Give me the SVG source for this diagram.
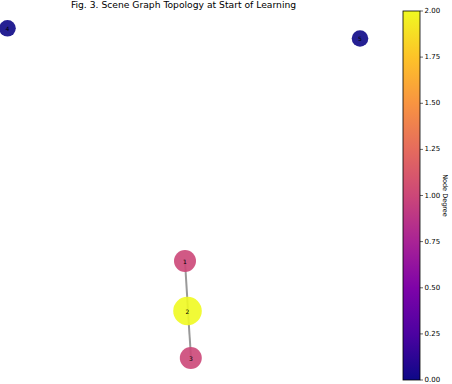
<svg xmlns="http://www.w3.org/2000/svg" width="452" height="384" viewBox="0 0 452 384">
<style>
text{font-family:"DejaVu Sans","Liberation Sans",sans-serif;fill:#000}
.title{font-size:9.2px}
.nl{font-size:6px;text-anchor:middle;dominant-baseline:central}
.tick{font-size:7px;dominant-baseline:central}
.edge{stroke:#999;stroke-width:2;fill:none}
.n0{fill:#0d0887;fill-opacity:0.9}
.n1{fill:#cc4778;fill-opacity:0.9}
.n2{fill:#f0f921;fill-opacity:0.9}
.tk{stroke:#000;stroke-width:0.6}
</style>
<defs>
<linearGradient id="plasma" x1="0" y1="1" x2="0" y2="0">
<stop offset="0" stop-color="#0d0887"/>
<stop offset="0.125" stop-color="#4c02a1"/>
<stop offset="0.25" stop-color="#7e03a8"/>
<stop offset="0.375" stop-color="#a92395"/>
<stop offset="0.5" stop-color="#cc4778"/>
<stop offset="0.625" stop-color="#e56b5d"/>
<stop offset="0.75" stop-color="#f89441"/>
<stop offset="0.875" stop-color="#fdc328"/>
<stop offset="1" stop-color="#f0f921"/>
</linearGradient>
</defs>
<rect width="452" height="384" fill="#fff"/>
<text class="title" x="183.5" y="8" text-anchor="middle">Fig. 3. Scene Graph Topology at Start of Learning</text>
<g id="edges">
<line class="edge" x1="185" y1="261" x2="188" y2="311"/>
<line class="edge" x1="188" y1="311" x2="191" y2="358"/>
</g>
<g id="node-4"><circle class="n0" cx="7.5" cy="28.3" r="8.3"/><text class="nl" x="7.5" y="28.3">4</text></g>
<g id="node-5"><circle class="n0" cx="360" cy="38.5" r="8.3"/><text class="nl" x="360" y="38.5">5</text></g>
<g id="node-1"><circle class="n1" cx="185" cy="261" r="11"/><text class="nl" x="185" y="261">1</text></g>
<g id="node-2"><circle class="n2" cx="187.5" cy="311" r="14.3"/><text class="nl" x="187.5" y="311">2</text></g>
<g id="node-3"><circle class="n1" cx="190.8" cy="358" r="11"/><text class="nl" x="190.8" y="358">3</text></g>
<g id="colorbar">
<rect x="403" y="11" width="17" height="369" fill="url(#plasma)" stroke="#000" stroke-width="0.8"/>
<g class="tk">
<line x1="420" y1="11" x2="423" y2="11"/>
<line x1="420" y1="57.1" x2="423" y2="57.1"/>
<line x1="420" y1="103.3" x2="423" y2="103.3"/>
<line x1="420" y1="149.4" x2="423" y2="149.4"/>
<line x1="420" y1="195.5" x2="423" y2="195.5"/>
<line x1="420" y1="241.6" x2="423" y2="241.6"/>
<line x1="420" y1="287.8" x2="423" y2="287.8"/>
<line x1="420" y1="333.9" x2="423" y2="333.9"/>
<line x1="420" y1="380" x2="423" y2="380"/>
</g>
<text class="tick" x="424.5" y="11">2.00</text>
<text class="tick" x="424.5" y="57.1">1.75</text>
<text class="tick" x="424.5" y="103.3">1.50</text>
<text class="tick" x="424.5" y="149.4">1.25</text>
<text class="tick" x="424.5" y="195.5">1.00</text>
<text class="tick" x="424.5" y="241.6">0.75</text>
<text class="tick" x="424.5" y="287.8">0.50</text>
<text class="tick" x="424.5" y="333.9">0.25</text>
<text class="tick" x="424.5" y="380">0.00</text>
<text x="445" y="195.5" font-size="6.5px" text-anchor="middle" transform="rotate(90 445 195.5)" dominant-baseline="central">Node Degree</text>
</g>
</svg>
